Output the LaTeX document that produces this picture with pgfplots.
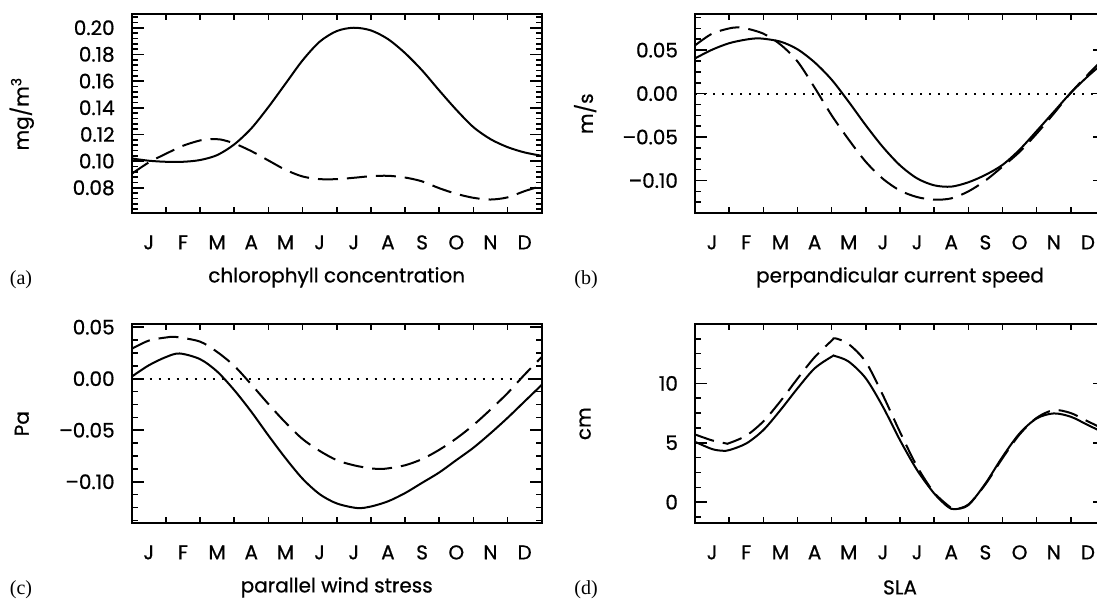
\documentclass[border=0pt]{standalone}
\usepackage{pgfplots}
\pgfplotsset{compat=1.18}
\usepackage{fontspec}
\setmainfont{Poppins}[FakeBold=0.7]
\newfontfamily\serif{Liberation Serif}

\pgfplotsset{
  panel/.style={
    scale only axis, width=205pt, height=99.7pt, anchor=north west,
    xmin=0, xmax=12,
    xtick={0,...,12}, xticklabels={},
    extra x ticks={0.5,1.5,...,11.5},
    extra x tick labels={J,F,M,A,M,J,J,A,S,O,N,D},
    extra x tick style={major tick length=0pt},
    xticklabel style={anchor=center, yshift=-14.5pt},
    tick align=inside, xtick pos=both, ytick pos=both,
    xticklabel pos=lower, yticklabel pos=left,
    major tick length=3pt, minor tick length=3pt,
    ytick style={/pgfplots/major tick length=6pt},
    axis line style={line width=1pt},
    every tick/.style={black, line width=0.8pt},
    yticklabel style={xshift=-5pt},
    xlabel style={at={(axis description cs:0.5,-0.321)}, anchor=center},
    ylabel style={at={(axis description cs:-0.268,0.5)}, anchor=center},
  },
  sol/.style={black, line width=1pt, smooth},
  das/.style={black, line width=1pt, smooth, dash pattern=on 10pt off 4.5pt},
  zer/.style={black, line width=1pt, dash pattern=on 0.9pt off 3.6pt},
}

\begin{document}
\fontsize{10}{12}\selectfont
\begin{tikzpicture}

% (a) chlorophyll
\begin{axis}[panel, at={(65.85pt,-7pt)},
  ymin=0.0608, ymax=0.2103,
  ytick={0.08,0.10,0.12,0.14,0.16,0.18,0.20},
  yticklabels={0.08,0.10,0.12,0.14,0.16,0.18,0.20},
  minor ytick={0.064,0.068,...,0.2085},
  xlabel={chlorophyll concentration}, ylabel={mg/m\textsuperscript{3}}]
\addplot[sol] coordinates {
  (0,0.102) (0.5,0.1003) (1,0.0995) (1.5,0.0995) (2,0.1008) (2.5,0.1045)
  (3,0.1125) (3.5,0.1245) (4,0.1405) (4.5,0.158) (5,0.1755) (5.5,0.1895)
  (6,0.1975) (6.5,0.2) (7,0.198) (7.5,0.1915) (8,0.181) (8.5,0.168)
  (9,0.153) (9.5,0.1385) (10,0.1255) (10.5,0.1165) (11,0.1105) (11.5,0.1065)
  (12,0.104)};
\addplot[das] coordinates {
  (0,0.0905) (0.5,0.099) (1,0.1055) (1.5,0.1115) (2,0.1155) (2.3,0.1165)
  (2.6,0.1162) (3,0.1133) (3.5,0.1075) (4,0.1005) (4.5,0.0935) (5,0.0885)
  (5.5,0.0865) (6,0.0865) (6.5,0.0875) (7,0.0887) (7.5,0.089) (8,0.0877)
  (8.5,0.0848) (9,0.0797) (9.5,0.0755) (10,0.0725) (10.5,0.0712) (11,0.0728)
  (11.5,0.0775) (12,0.0815)};
\end{axis}

% (b) perpendicular current speed
\begin{axis}[panel, at={(347.5pt,-7pt)},
  ymin=-0.1378, ymax=0.0916,
  ytick={-0.10,-0.05,0,0.05},
  yticklabels={\textendash0.10,\textendash0.05,0.00,0.05},
  minor ytick={-0.125,-0.1125,...,0.089},
  xlabel={perpandicular current speed}, ylabel={m/s}]
\addplot[zer] coordinates {(0,0) (12,0)};
\addplot[sol] coordinates {
  (0,0.0405) (0.5,0.0505) (1,0.058) (1.5,0.0622) (1.9,0.0635) (2.5,0.0598)
  (3,0.051) (3.5,0.036) (4,0.016) (4.5,-0.0095) (5,-0.0365) (5.5,-0.0615)
  (6,-0.0825) (6.5,-0.0975) (7,-0.1055) (7.5,-0.107) (8,-0.102) (8.5,-0.0935)
  (9,-0.082) (9.5,-0.0645) (10,-0.043) (10.5,-0.021) (11,0.001) (11.5,0.02)
  (12,0.037)};
\addplot[das] coordinates {
  (0,0.0555) (0.5,0.069) (1,0.075) (1.25,0.0762) (1.5,0.075) (2,0.069)
  (2.5,0.0565) (3,0.037) (3.5,0.007) (4,-0.025) (4.5,-0.053) (5,-0.0785)
  (5.5,-0.098) (6,-0.1115) (6.5,-0.119) (7,-0.122) (7.5,-0.1205) (8,-0.1125)
  (8.5,-0.1) (9,-0.084) (9.5,-0.067) (10,-0.046) (10.5,-0.023) (11,0.001)
  (11.5,0.022) (12,0.042)};
\end{axis}

% (c) parallel wind stress
\begin{axis}[panel, at={(65.85pt,-162pt)},
  ymin=-0.1404, ymax=0.0531,
  ytick={-0.10,-0.05,0,0.05},
  yticklabels={\textendash0.10,\textendash0.05,0.00,0.05},
  minor ytick={-0.1375,-0.125,...,0.051},
  xlabel={parallel wind stress}, ylabel={Pa}]
\addplot[zer] coordinates {(0,0) (12,0)};
\addplot[sol] coordinates {
  (0,0.002) (0.5,0.013) (1,0.021) (1.4,0.0245) (2,0.019) (2.5,0.007)
  (3,-0.011) (3.5,-0.032) (4,-0.055) (4.5,-0.077) (5,-0.097) (5.5,-0.112)
  (6,-0.121) (6.6,-0.1255) (7,-0.124) (7.5,-0.119) (8,-0.111) (8.5,-0.101)
  (9,-0.091) (9.5,-0.079) (10,-0.067) (10.5,-0.053) (11,-0.038) (11.5,-0.022)
  (12,-0.006)};
\addplot[das] coordinates {
  (0,0.029) (0.5,0.037) (1,0.040) (1.3,0.0405) (2,0.036) (2.5,0.026)
  (3,0.0125) (3.5,-0.0055) (4,-0.0245) (4.5,-0.0425) (5,-0.0585) (5.5,-0.070)
  (6,-0.079) (6.5,-0.084) (7,-0.087) (7.3,-0.0875) (7.5,-0.087) (8,-0.084)
  (8.5,-0.078) (9,-0.069) (9.5,-0.058) (10,-0.045) (10.5,-0.030) (11,-0.014)
  (11.5,0.004) (12,0.021)};
\end{axis}

% (d) SLA
\begin{axis}[panel, at={(347.5pt,-162pt)},
  ymin=-1.79, ymax=15,
  ytick={0,5,10}, yticklabels={0,5,10},
  minor ytick={-1.25,0,1.25,...,13.75},
  xlabel={SLA}, ylabel={cm}]
\addplot[sol] coordinates {
  (0,5.08) (0.5,4.47) (0.8,4.33) (1,4.38) (1.5,4.94) (2,6.07) (2.5,7.75)
  (3,9.58) (3.5,11.26) (4,12.25) (4.1,12.3) (4.5,11.83) (5,10.42) (5.5,8.03)
  (6,5.22) (6.5,2.7) (7,0.73) (7.4,-0.39) (7.6,-0.59) (8,-0.25) (8.5,1.57)
  (9,3.82) (9.5,5.79) (10,7.05) (10.5,7.47) (11,7.19) (11.5,6.49) (12,5.8)};
\addplot[das] coordinates {
  (0,5.7) (0.5,5.2) (0.9,4.95) (1,4.97) (1.5,5.6) (2,6.8) (2.5,8.5)
  (3,10.4) (3.5,12.2) (4,13.6) (4.1,13.8) (4.5,13.3) (5,11.8) (5.5,9.0)
  (6,5.9) (6.5,3.0) (7,0.8) (7.5,-0.5) (7.6,-0.6) (8,-0.2) (8.5,1.5)
  (9,3.7) (9.5,5.7) (10,7.1) (10.5,7.75) (11,7.5) (11.5,6.8) (12,6.1)};
\end{axis}

\node[font=\serif\fontsize{10}{12}\selectfont] at (10.5pt,-140pt) {(a)};
\node[font=\serif\fontsize{10}{12}\selectfont] at (293pt,-140pt) {(b)};
\node[font=\serif\fontsize{10}{12}\selectfont] at (10.5pt,-295pt) {(c)};
\node[font=\serif\fontsize{10}{12}\selectfont] at (293pt,-295pt) {(d)};

\pgfresetboundingbox
\useasboundingbox (0,0) rectangle (548.5pt,-299.5pt);
\end{tikzpicture}
\end{document}
